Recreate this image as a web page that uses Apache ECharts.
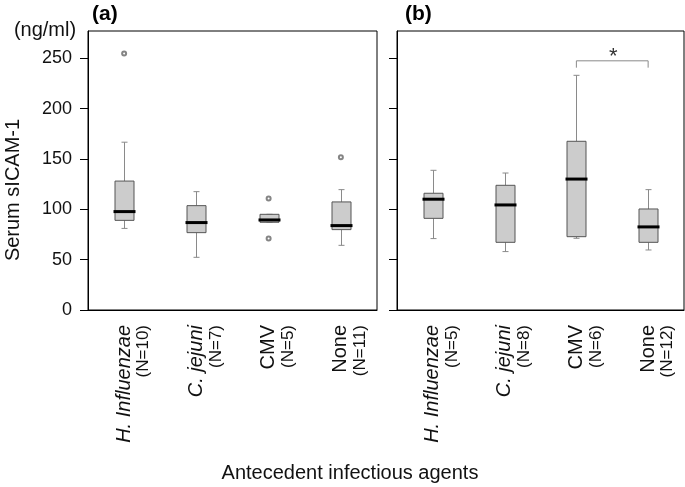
<!DOCTYPE html>
<html>
<head>
<meta charset="utf-8">
<script src="https://cdn.jsdelivr.net/npm/echarts@6/dist/echarts.min.js"></script>
<style>html,body{margin:0;padding:0;background:#fff}#c{width:685px;height:487px}</style>
</head>
<body>
<div id="c"></div>
<script>
// ---- data ----
var categories = ['H. Influenzae', 'C. jejuni', 'CMV', 'None'];
var italicCats = [true, true, false, false];
var nA = [10, 7, 5, 11];
var nB = [5, 8, 6, 12];
// [low whisker, Q1, median, Q3, high whisker]
var boxA = [
  [81, 89, 97.7, 128, 166.6],
  [52.3, 76.8, 86.8, 103.6, 117.5],
  [87.1, 87.1, 89.4, 95, 95],
  [64.2, 79.8, 83.8, 107.3, 119.5]
];
var outliersA = [[0, 254.6], [2, 110.6], [2, 70.9], [3, 151.7]];
var boxB = [
  [70.9, 91, 110, 115.9, 138.7],
  [58, 67.2, 104.3, 123.8, 136],
  [71.2, 72.8, 130, 167.5, 233],
  [59.6, 67.2, 82.5, 100.3, 119.5]
];
var outliersB = [];
var yTicks = [0, 50, 100, 150, 200, 250];
var yMax = 277;
// significance bracket: [from category, to category, bar level, drop level, star level]
var bracket = [2, 3, 247.4, 240.6, 255];

// ---- rendering ----
var chart = echarts.init(document.getElementById('c'));
var FONT = 'Liberation Sans, Arial, sans-serif';

function boxData(arr) {
  return arr.map(function (b, i) { return [i].concat(b); });
}

function renderBox(params, api) {
  var x = api.value(0);
  var low = api.coord([x, api.value(1)]);
  var q1 = api.coord([x, api.value(2)]);
  var med = api.coord([x, api.value(3)]);
  var q3 = api.coord([x, api.value(4)]);
  var high = api.coord([x, api.value(5)]);
  var cx = Math.round(low[0]) + 0.5;
  var bw = 19, cw = 6;
  var wStyle = { stroke: '#8a8a8a', lineWidth: 1 };
  return {
    type: 'group',
    children: [
      { type: 'line', shape: { x1: cx, y1: high[1], x2: cx, y2: q3[1] }, style: wStyle },
      { type: 'line', shape: { x1: cx, y1: low[1], x2: cx, y2: q1[1] }, style: wStyle },
      { type: 'line', shape: { x1: cx - cw / 2, y1: high[1], x2: cx + cw / 2, y2: high[1] }, style: wStyle },
      { type: 'line', shape: { x1: cx - cw / 2, y1: low[1], x2: cx + cw / 2, y2: low[1] }, style: wStyle },
      { type: 'rect', shape: { x: cx - bw / 2, y: q3[1], width: bw, height: q1[1] - q3[1] },
        style: { fill: '#cccccc', stroke: '#555', lineWidth: 1 } },
      { type: 'line', shape: { x1: cx - bw / 2 - 1.5, y1: med[1], x2: cx + bw / 2 + 1.5, y2: med[1] },
        style: { stroke: '#000', lineWidth: 3 } }
    ]
  };
}

function renderBracket(params, api) {
  var a = api.coord([api.value(0), api.value(2)]);
  var b = api.coord([api.value(1), api.value(2)]);
  var ad = api.coord([api.value(0), api.value(3)]);
  var s = api.coord([(api.value(0) + api.value(1)) / 2, api.value(4)]);
  var st = { stroke: '#8a8a8a', lineWidth: 1, fill: null };
  return {
    type: 'group',
    children: [
      { type: 'polyline', shape: { points: [[a[0], ad[1]], [a[0], a[1]], [b[0], a[1]], [b[0], ad[1]]] }, style: st },
      { type: 'text', x: (a[0] + b[0]) / 2 + 1, y: s[1] + 4,
        style: { text: '*', fill: '#333', font: '22px ' + FONT, align: 'center', verticalAlign: 'middle' } }
    ]
  };
}

function xAxisFor(idx, ns) {
  return {
    type: 'category', gridIndex: idx, data: categories,
    axisLine: { lineStyle: { color: '#000', width: 1 } },
    axisTick: { show: false },
    axisLabel: {
      interval: 0, rotate: 90, margin: 15,
      padding: [17, 0, 0, 0],
      formatter: function (v, i) {
        return '{' + (italicCats[i] ? 'i' : 'r') + '|' + v + '}\n{n|(N=' + ns[i] + ')}';
      },
      rich: {
        i: { fontFamily: FONT, fontStyle: 'italic', fontSize: 20, lineHeight: 22, color: '#111' },
        r: { fontFamily: FONT, fontSize: 20, lineHeight: 22, color: '#111' },
        n: { fontFamily: FONT, fontSize: 17, lineHeight: 17, color: '#111' }
      }
    }
  };
}

function yAxisFor(idx, showLabels) {
  return {
    type: 'value', gridIndex: idx, min: 0, max: yMax, interval: 50,
    splitLine: { show: false },
    axisLine: { show: true, lineStyle: { color: '#000', width: 1 } },
    axisTick: { show: true, length: 8, customValues: yTicks, lineStyle: { color: '#000' } },
    axisLabel: { show: showLabels, customValues: yTicks, margin: 16, color: '#111',
      fontFamily: FONT, fontSize: 18 }
  };
}

var option = {
  animation: false,
  backgroundColor: '#fff',
  grid: [
    { left: 88, top: 31, width: 289, height: 279, show: true, borderColor: '#000', borderWidth: 1, backgroundColor: 'transparent' },
    { left: 397, top: 31, width: 287, height: 279, show: true, borderColor: '#000', borderWidth: 1, backgroundColor: 'transparent' }
  ],
  xAxis: [xAxisFor(0, nA), xAxisFor(1, nB)],
  yAxis: [yAxisFor(0, true), yAxisFor(1, false)],
  series: [
    { type: 'custom', xAxisIndex: 0, yAxisIndex: 0, renderItem: renderBox, data: boxData(boxA),
      encode: { x: 0, y: [1, 2, 3, 4, 5] }, silent: true },
    { type: 'scatter', xAxisIndex: 0, yAxisIndex: 0, data: outliersA, symbol: 'emptyCircle', symbolSize: 4,
      itemStyle: { color: '#666', borderColor: '#666', borderWidth: 0.8 }, silent: true, z: 5 },
    { type: 'custom', xAxisIndex: 1, yAxisIndex: 1, renderItem: renderBox, data: boxData(boxB),
      encode: { x: 0, y: [1, 2, 3, 4, 5] }, silent: true },
    { type: 'scatter', xAxisIndex: 1, yAxisIndex: 1, data: outliersB, symbol: 'emptyCircle', symbolSize: 4,
      itemStyle: { color: '#666', borderColor: '#666', borderWidth: 0.8 }, silent: true, z: 5 },
    { type: 'custom', xAxisIndex: 1, yAxisIndex: 1, renderItem: renderBracket, data: [bracket],
      encode: { x: [0, 1], y: [2, 3, 4] }, silent: true }
  ],
  graphic: [
    { type: 'text', left: 92, top: 4, style: { text: '(a)', font: 'bold 21px ' + FONT, fill: '#000' } },
    { type: 'text', left: 405, top: 4, style: { text: '(b)', font: 'bold 21px ' + FONT, fill: '#000' } },
    { type: 'text', x: 45, y: 30, style: { text: '(ng/ml)', font: '20px ' + FONT, fill: '#111', align: 'center', verticalAlign: 'middle' } },
    { type: 'text', x: 13, y: 190, rotation: Math.PI / 2,
      style: { text: 'Serum sICAM-1', font: '20px ' + FONT, fill: '#111', align: 'center', verticalAlign: 'middle' } },
    { type: 'text', x: 350, y: 473, style: { text: 'Antecedent infectious agents', font: '20px ' + FONT, fill: '#111', align: 'center', verticalAlign: 'middle' } }
  ]
};
chart.setOption(option);
</script>
</body>
</html>
